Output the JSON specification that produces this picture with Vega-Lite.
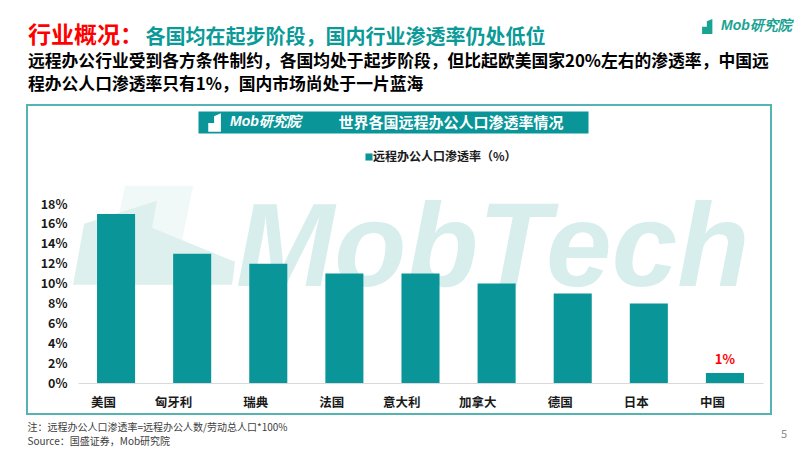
{
  "$schema": "https://vega.github.io/schema/vega-lite/v6.json",
  "width": 744,
  "height": 309,
  "autosize": {"type": "none"},
  "padding": {"left": 27, "top": 105, "right": 29, "bottom": 36},
  "background": "white",
  "title": {
    "text": "行业概况：",
    "subtitle": ["远程办公行业受到各方条件制约，各国均处于起步阶段，但比起欧美国家20%左右的渗透率，中国远", "程办公人口渗透率只有1%，国内市场尚处于一片蓝海"],
    "anchor": "start",
    "frame": "group",
    "orient": "top",
    "offset": -76,
    "dx": 1,
    "color": "#ff0000",
    "font": "Noto Sans CJK SC",
    "fontSize": 23,
    "fontWeight": "bold",
    "subtitleColor": "#000000",
    "subtitleFont": "Noto Sans CJK SC",
    "subtitleFontSize": 16.8,
    "subtitleFontWeight": "bold",
    "subtitleLineHeight": 22.8,
    "subtitlePadding": 6
  },
  "data": {
    "values": [
      {"country": "美国", "rate": 0.17, "series": "远程办公人口渗透率（%）"},
      {"country": "匈牙利", "rate": 0.13, "series": "远程办公人口渗透率（%）"},
      {"country": "瑞典", "rate": 0.12, "series": "远程办公人口渗透率（%）"},
      {"country": "法国", "rate": 0.11, "series": "远程办公人口渗透率（%）"},
      {"country": "意大利", "rate": 0.11, "series": "远程办公人口渗透率（%）"},
      {"country": "加拿大", "rate": 0.10, "series": "远程办公人口渗透率（%）"},
      {"country": "德国", "rate": 0.09, "series": "远程办公人口渗透率（%）"},
      {"country": "日本", "rate": 0.08, "series": "远程办公人口渗透率（%）"},
      {"country": "中国", "rate": 0.01, "series": "远程办公人口渗透率（%）"}
    ]
  },
  "layer": [
    {
      "layer": [
        {
          "data": {"values": [{"wm": "icon"}]},
          "mark": {"type": "point", "filled": true, "opacity": 1, "color": "#f0f9f8", "size": 26244,
                   "shape": "M0.111,-0.605 L0.951,-0.605 L0.704,0.617 L-0.136,0.617 Z"},
          "encoding": {
            "x": {"datum": "美国"},
            "y": {"datum": 0.149, "axis": {"labelOverlap": false, "values": [0, 0.02, 0.04, 0.06, 0.08, 0.1, 0.12, 0.14, 0.16, 0.18]}}
          }
        },
        {
          "data": {"values": [{"wm": "icon"}]},
          "mark": {"type": "point", "filled": true, "opacity": 1, "color": "#ddf0ee", "size": 26244,
                   "shape": "M-0.531,0.617 L-0.395,-0.136 L0.506,-0.42 L0.444,-0.086 L1.469,0.333 L1.432,0.617 Z"},
          "encoding": {
            "x": {"datum": "美国"},
            "y": {"datum": 0.149, "axis": {"labelOverlap": false, "values": [0, 0.02, 0.04, 0.06, 0.08, 0.1, 0.12, 0.14, 0.16, 0.18]}}
          }
        },
        {
          "data": {"values": [{"wm": "MobTech"}]},
          "mark": {"type": "text", "font": "Liberation Sans", "fontSize": 118, "fontWeight": "bold", "fontStyle": "italic", "color": "#d8eeec", "align": "center", "baseline": "alphabetic", "dx": -4},
          "encoding": {
            "x": {"datum": "加拿大"},
            "y": {"datum": 0.0975, "axis": {"labelOverlap": false, "values": [0, 0.02, 0.04, 0.06, 0.08, 0.1, 0.12, 0.14, 0.16, 0.18]}},
            "text": {"field": "wm"}
          }
        },
        {
          "mark": {"type": "bar", "color": "#0a9598"},
          "encoding": {
            "x": {
              "field": "country", "type": "nominal", "sort": null,
              "scale": {"domain": ["美国", "匈牙利", "瑞典", "法国", "意大利", "加拿大", "德国", "日本", "中国"], "range": [51, 736], "paddingInner": 0.5, "paddingOuter": 0.25},
              "axis": {
                "orient": "bottom", "offset": -31, "domain": true, "domainColor": "#d9d9d9", "domainWidth": 1,
                "ticks": false, "labelPadding": 19, "labelAngle": 0,
                "labelFont": "Noto Sans CJK SC", "labelFontSize": 12.5, "labelFontWeight": "bold", "labelColor": "#1a1a1a",
                "title": ["注：远程办公人口渗透率=远程办公人数/劳动总人口*100%", "Source：国盛证券，Mob研究院"],
                "titleX": 0, "titleY": 39, "titleAlign": "left", "titleBaseline": "top", "titleAngle": 0,
                "titleFont": "Noto Sans CJK SC", "titleFontSize": 10, "titleFontWeight": "normal", "titleColor": "#404040", "titleLineHeight": 14
              }
            },
            "y": {
              "field": "rate", "type": "quantitative",
              "scale": {"domain": [0, 0.18], "range": [278, 99], "nice": false},
              "axis": {
                "orient": "left", "offset": -51, "values": [0, 0.02, 0.04, 0.06, 0.08, 0.1, 0.12, 0.14, 0.16, 0.18], "format": ".0%",
                "labelOverlap": false,
                "domain": false, "ticks": false, "grid": false, "labelPadding": 11,
                "labelFont": "Noto Sans CJK SC", "labelFontSize": 12.5, "labelFontWeight": "bold", "labelColor": "#1a1a1a",
                "title": "各国均在起步阶段，国内行业渗透率仍处低位",
                "titleAngle": 0, "titleAlign": "left", "titleBaseline": "alphabetic", "titleX": 67, "titleY": -62,
                "titleColor": "#0a9a98", "titleFont": "Noto Sans CJK SC", "titleFontSize": 20, "titleFontWeight": "bold"
              }
            },
            "color": {
              "field": "series", "type": "nominal",
              "scale": {"range": ["#0a9598"]},
              "legend": {
                "orient": "none", "legendX": 336, "legendY": 46, "title": null, "padding": 0,
                "symbolType": "square", "symbolSize": 50, "labelOffset": -2, "labelLimit": 300,
                "labelFont": "Noto Sans CJK SC", "labelFontSize": 12, "labelFontWeight": "bold", "labelColor": "#1a1a1a"
              }
            }
          }
        },
        {
          "transform": [{"filter": "datum.country === '中国'"}],
          "mark": {"type": "text", "color": "#ff0000", "font": "Noto Sans CJK SC", "fontSize": 13, "fontWeight": "bold", "baseline": "middle", "dy": -13},
          "encoding": {
            "x": {"field": "country", "type": "nominal"},
            "y": {"field": "rate", "type": "quantitative", "axis": {"labelOverlap": false, "values": [0, 0.02, 0.04, 0.06, 0.08, 0.1, 0.12, 0.14, 0.16, 0.18]}},
            "text": {"field": "rate", "format": ".0%"}
          }
        }
      ]
    },
    {
      "data": {"values": [{"band": "世界各国远程办公人口渗透率情况"}]},
      "mark": {"type": "point", "opacity": 0},
      "encoding": {
        "x": {
          "field": "band", "type": "nominal",
          "scale": {"range": [171, 561]},
          "axis": {
            "orient": "top", "offset": -17, "domain": true, "domainColor": "#0a9598", "domainWidth": 22, "domainCap": "butt",
            "labels": false, "ticks": false, "grid": false,
            "title": "世界各国远程办公人口渗透率情况", "titleX": 311, "titleY": 0, "titleAlign": "left", "titleBaseline": "middle", "titleAngle": 0,
            "titleColor": "#ffffff", "titleFont": "Noto Sans CJK SC", "titleFontSize": 15, "titleFontWeight": "bold"
          }
        }
      }
    },
    {
      "data": {"values": [{"bandlogo": "Mob研究院"}]},
      "mark": {"type": "point", "opacity": 0, "filled": true, "color": "#ffffff"},
      "encoding": {
        "shape": {
          "field": "bandlogo", "type": "nominal",
          "scale": {"range": ["M-1,1 L-1,0.1 L-0.4,0.1 L-0.4,-0.6 L0.3,-0.9 L0.3,1 Z"]},
          "legend": {
            "orient": "none", "legendX": 181, "legendY": 7, "title": null, "padding": 0,
            "symbolSize": 380, "symbolOpacity": 1, "symbolFillColor": "#ffffff", "symbolStrokeWidth": 0,
            "labelOffset": 2, "labelFont": "Liberation Sans", "labelFontStyle": "italic", "labelFontWeight": "bold",
            "labelFontSize": 14, "labelColor": "#ffffff"
          }
        }
      }
    },
    {
      "data": {"values": [{"logo": "Mob研究院"}]},
      "mark": {"type": "point", "opacity": 0, "filled": true, "color": "#1aa393"},
      "encoding": {
        "shape": {
          "field": "logo", "type": "nominal",
          "scale": {"range": ["M-1,1 L-1,0.1 L-0.4,0.1 L-0.4,-0.6 L0.3,-0.9 L0.3,1 Z"]},
          "legend": {
            "orient": "none", "legendX": 675, "legendY": -87, "title": null, "padding": 0,
            "symbolSize": 250, "symbolOpacity": 1, "symbolFillColor": "#1aa393", "symbolStrokeWidth": 0,
            "labelOffset": 3, "labelFont": "Liberation Sans", "labelFontStyle": "italic", "labelFontWeight": "bold",
            "labelFontSize": 14, "labelColor": "#1aa393"
          }
        }
      }
    },
    {
      "data": {"values": [{"page": "5"}]},
      "mark": {"type": "point", "opacity": 0},
      "encoding": {
        "shape": {
          "field": "page", "type": "nominal",
          "legend": {
            "orient": "none", "legendX": 743, "legendY": 324, "title": null, "padding": 0,
            "symbolOpacity": 0, "symbolSize": 0, "labelOffset": 0,
            "labelFont": "Noto Sans CJK SC", "labelFontSize": 11, "labelColor": "#8c8c8c"
          }
        }
      }
    }
  ],
  "resolve": {
    "scale": {"x": "independent", "shape": "independent"},
    "axis": {"x": "independent"},
    "legend": {"shape": "independent"}
  },
  "config": {
    "font": "Noto Sans CJK SC",
    "axis": {"labelOverlap": false},
    "axisY": {"labelOverlap": false},
    "view": {"stroke": "#55b3b1", "strokeWidth": 2, "fill": "white"}
  }
}
